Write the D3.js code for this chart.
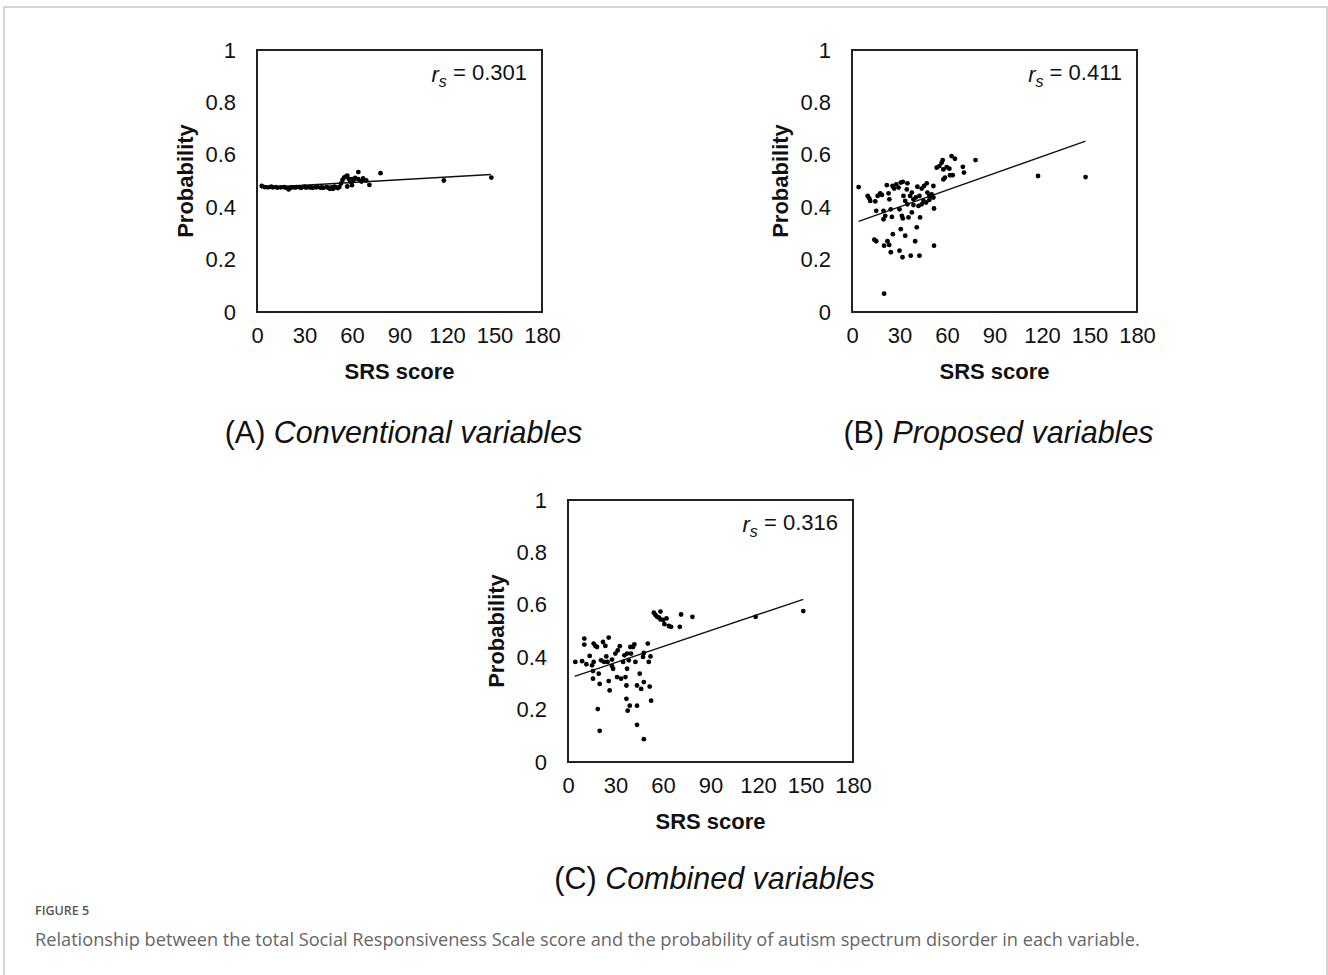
<!DOCTYPE html>
<html>
<head>
<meta charset="utf-8">
<script src="https://cdn.jsdelivr.net/npm/d3@7"></script>
<style>
  body { margin: 0; background: #fff; }
  text { font-family: "Liberation Sans", Arial, sans-serif; fill: #111; }
</style>
</head>
<body>
<script>
// Figure 5: SRS score vs probability, three scatter panels

// axis ticks
var xTicks = [0, 30, 60, 90, 120, 150, 180];
var yTicks = [0, 0.2, 0.4, 0.6, 0.8, 1];

// (A) conventional variables: [SRS score, probability]
var conventionalPoints = [
  [3,0.481],[5,0.477],[7,0.476],[9,0.478],[10,0.476],[12,0.477],[13,0.475],[15,0.476],
  [17,0.477],[18,0.475],[20,0.472],[20,0.468],[21,0.474],[22,0.476],[24,0.475],[25,0.477],
  [27,0.476],[28,0.474],[30,0.478],[31,0.475],[33,0.476],[34,0.477],[35,0.474],[37,0.476],
  [38,0.477],[40,0.475],[41,0.476],[42,0.474],[44,0.477],[45,0.475],[46,0.470],[47,0.476],
  [48,0.470],[49,0.478],[50,0.475],[51,0.473],[52,0.477],[53,0.490],[54,0.504],[55,0.513],
  [56,0.517],[57,0.520],[57,0.479],[58,0.508],[59,0.498],[60,0.507],[60,0.484],[61,0.504],
  [62,0.512],[64,0.534],[64,0.507],[66,0.498],[67,0.510],[69,0.502],[71,0.485],[78,0.530],
  [118,0.502],[148,0.513]
];

// (B) proposed variables
var proposedPoints = [
  [4.2,0.477],[9.9,0.443],[10.9,0.434],[11.5,0.424],[14.7,0.422],[16.2,0.443],[17.8,0.453],
  [18.9,0.447],[15.3,0.386],[19.9,0.386],[22.0,0.484],[23.1,0.453],[23.6,0.430],[24.5,0.392],
  [25.6,0.481],[26.6,0.471],[27.9,0.487],[29.4,0.475],[30.8,0.494],[32.1,0.497],[32.5,0.443],
  [33.6,0.424],[34.6,0.468],[35.0,0.491],[36.7,0.443],[37.8,0.456],[38.8,0.430],[40.3,0.437],
  [41.3,0.478],[42.6,0.443],[44.0,0.471],[45.5,0.481],[47.2,0.491],[47.6,0.456],[48.9,0.443],
  [50.3,0.449],[51.4,0.437],[48.9,0.428],[51.8,0.395],[30.0,0.392],[31.5,0.367],[32.1,0.357],
  [21.0,0.367],[19.9,0.354],[25.2,0.363],[35.7,0.361],[37.8,0.380],[38.8,0.408],[43.0,0.361],
  [42.0,0.405],[45.1,0.424],[35.0,0.411],[44.0,0.411],[46.8,0.418],[30.8,0.316],[33.6,0.291],
  [25.8,0.297],[40.9,0.323],[14.1,0.276],[15.3,0.270],[22.4,0.270],[23.5,0.256],[20.3,0.253],
  [39.9,0.270],[24.5,0.228],[30.0,0.234],[31.9,0.209],[37.1,0.215],[42.6,0.215],[51.8,0.253],
  [20.3,0.070],[53.5,0.551],[55.2,0.557],[56.6,0.570],[57.3,0.580],[57.7,0.544],[59.8,0.553],
  [61.5,0.547],[62.9,0.595],[65.0,0.585],[57.7,0.506],[58.7,0.513],[61.9,0.522],[63.6,0.522],
  [70.0,0.554],[70.7,0.532],[78.0,0.580],[117.5,0.519],[147.5,0.515],[51.4,0.481]
];

// (C) combined variables
var combinedPoints = [
  [4.6,0.382],[8.9,0.385],[10.3,0.471],[10.3,0.448],[13.7,0.405],[15.2,0.369],[15.8,0.347],
  [16.2,0.452],[17.3,0.443],[18.3,0.439],[16.2,0.382],[15.8,0.318],[19.4,0.337],[20.0,0.298],
  [18.8,0.202],[20.0,0.119],[20.9,0.388],[22.1,0.458],[23.6,0.443],[24.2,0.403],[25.0,0.382],
  [25.7,0.475],[25.7,0.309],[26.3,0.273],[27.8,0.391],[28.5,0.356],[29.9,0.414],[31.4,0.426],
  [32.7,0.442],[33.5,0.318],[34.8,0.382],[35.6,0.407],[36.3,0.324],[37.3,0.414],[38.4,0.388],
  [37.3,0.356],[36.9,0.292],[36.9,0.241],[37.7,0.196],[39.0,0.215],[39.8,0.414],[41.1,0.439],
  [41.9,0.449],[42.6,0.382],[43.6,0.292],[43.6,0.215],[43.6,0.142],[45.3,0.337],[46.2,0.279],
  [47.4,0.401],[47.9,0.087],[47.9,0.305],[50.4,0.452],[51.0,0.382],[52.1,0.403],[51.6,0.288],
  [52.5,0.234],[47.9,0.416],[54.2,0.570],[55.2,0.561],[56.3,0.554],[58.4,0.574],[58.4,0.544],
  [60.1,0.542],[62.2,0.548],[63.7,0.519],[65.1,0.516],[70.6,0.516],[71.4,0.563],[78.6,0.554],
  [118.5,0.554],[148.6,0.576],[57.5,0.551],[60.9,0.526],[27.8,0.366],[22.8,0.382],[11.6,0.373],
  [31.0,0.324],[39.4,0.439]
];

// fitted lines: [start, end]
var conventionalTrend = [[2.5,0.474],[147.7,0.525]];
var proposedTrend = [[4.2,0.346],[147.5,0.652]];
var combinedTrend = [[4.2,0.327],[148.6,0.621]];

var panelLetters = ["A", "B", "C"];
var panelNames = ["Conventional variables", "Proposed variables", "Combined variables"];
var rsValues = ["0.301", "0.411", "0.316"];

// layout
var width = 285, height = 262;
var panelOrigins = [[257, 50], [852, 50], [568, 500]];

var svg = d3.select("body").append("svg")
    .attr("width", 1328)
    .attr("height", 975);

svg.append("rect")
    .attr("width", 1328).attr("height", 975)
    .attr("fill", "#fff");

// page frame (no bottom edge)
svg.append("path")
    .attr("d", "M4,975V7H1327V975")
    .attr("fill", "none")
    .attr("stroke", "#d4d4d4")
    .attr("stroke-width", 2);

var xScale = d3.scaleLinear().domain([0, 180]).range([0, width]);
var yScale = d3.scaleLinear().domain([0, 1]).range([height, 0]);

var allPoints = [conventionalPoints, proposedPoints, combinedPoints];
var allTrends = [conventionalTrend, proposedTrend, combinedTrend];

for (var i = 0; i < 3; i++) {
    drawPanel(i);
}

function drawPanel(i) {
    var g = svg.append("g")
        .attr("transform", "translate(" + panelOrigins[i][0] + "," + panelOrigins[i][1] + ")");

    // x axis
    g.append("g")
        .attr("transform", "translate(0," + height + ")")
        .call(d3.axisBottom(xScale).tickValues(xTicks).tickSize(0).tickPadding(15));
    // y axis
    g.append("g")
        .call(d3.axisLeft(yScale).tickValues(yTicks).tickSize(0).tickPadding(21)
            .tickFormat(function(d) { return d; }));

    g.selectAll(".domain").remove();
    g.selectAll(".tick text")
        .style("font-size", "22px")
        .style("font-family", "'Liberation Sans', Arial, sans-serif")
        .attr("fill", "#111");

    // plot frame
    g.append("rect")
        .attr("width", width)
        .attr("height", height)
        .attr("fill", "none")
        .attr("stroke", "#222")
        .attr("stroke-width", 2);

    // trend line
    g.append("line")
        .attr("x1", xScale(allTrends[i][0][0]))
        .attr("y1", yScale(allTrends[i][0][1]))
        .attr("x2", xScale(allTrends[i][1][0]))
        .attr("y2", yScale(allTrends[i][1][1]))
        .attr("stroke", "#111")
        .attr("stroke-width", 1.4);

    // dots
    g.selectAll(".dot")
        .data(allPoints[i])
        .enter().append("circle")
        .attr("class", "dot")
        .attr("r", 2.4)
        .attr("cx", function(d) { return xScale(d[0]); })
        .attr("cy", function(d) { return yScale(d[1]); })
        .attr("fill", "#000");

    // r_s label
    var rs = g.append("text")
        .attr("x", width - 15)
        .attr("y", 32)
        .attr("text-anchor", "end")
        .style("font-size", "22px");
    rs.append("tspan").style("font-style", "italic").text("r");
    rs.append("tspan").style("font-style", "italic").style("font-size", "16px")
        .attr("dy", "0.3em").text("s");
    rs.append("tspan").attr("dy", "-0.3em").text(" = " + rsValues[i]);

    // axis titles
    g.append("text")
        .attr("x", width / 2)
        .attr("y", height + 67)
        .attr("text-anchor", "middle")
        .style("font-size", "22px")
        .style("font-weight", "bold")
        .text("SRS score");

    g.append("text")
        .attr("transform", "rotate(-90)")
        .attr("x", -height / 2)
        .attr("y", -64)
        .attr("text-anchor", "middle")
        .style("font-size", "22px")
        .style("font-weight", "bold")
        .text("Probability");

    // panel subtitle
    var sub = g.append("text")
        .attr("x", width / 2 + 4)
        .attr("y", height + (i == 2 ? 127 : 131))
        .attr("text-anchor", "middle")
        .style("font-size", "30.5px");
    sub.append("tspan").text("(" + panelLetters[i] + ") ");
    sub.append("tspan").style("font-style", "italic").text(panelNames[i]);
}

// caption
svg.append("text")
    .attr("x", 35)
    .attr("y", 915)
    .style("font-family", "'Open Sans', sans-serif")
    .style("font-size", "12.5px")
    .style("font-weight", "600")
    .style("fill", "#555")
    .text("FIGURE 5");

svg.append("text")
    .attr("x", 35)
    .attr("y", 946)
    .style("font-family", "'Open Sans', sans-serif")
    .style("font-size", "18.2px")
    .style("fill", "#666")
    .text("Relationship between the total Social Responsiveness Scale score and the probability of autism spectrum disorder in each variable.");
</script>
</body>
</html>
